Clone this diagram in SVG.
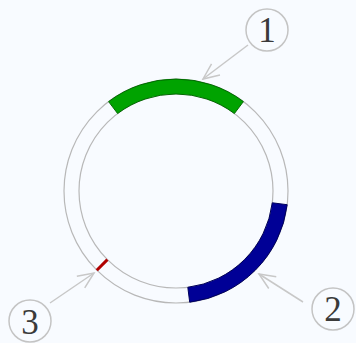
<svg xmlns="http://www.w3.org/2000/svg" width="356" height="343" viewBox="0 0 356 343">
<style>
.ring{fill:none;stroke:#b8b8b8;stroke-width:1.2}
.lbl{fill:none;stroke:#c4c4c4;stroke-width:1.5}
.num{font-family:"Liberation Serif",serif;font-size:35px;fill:#3a3a3a;text-anchor:middle}
.arr{fill:none;stroke:#c8c8c8;stroke-width:1.5;marker-end:url(#v)}
</style>
<defs>
<marker id="v" markerUnits="userSpaceOnUse" viewBox="-18 -9 20 18" refX="0" refY="0" markerWidth="20" markerHeight="18" orient="auto">
<path d="M-16,-7 L0,0 L-16,7" fill="none" stroke="#c8c8c8" stroke-width="1.5"/>
</marker>
</defs>
<rect width="356" height="343" fill="#f8fbff"/>
<g id="plasmid">
<circle class="ring" cx="176" cy="191" r="112"/>
<circle class="ring" cx="176" cy="191" r="97"/>
</g>
<g id="seg1">
<path d="M108.6,101.6 A112,112 0 0 1 243.4,101.6 L234.4,113.5 A97,97 0 0 0 117.6,113.5 Z" fill="#00a300" stroke="#006a00" stroke-width="1"/>
</g>
<g id="seg2">
<path d="M287.2,204.7 A112,112 0 0 1 189.7,302.2 L187.8,287.3 A97,97 0 0 0 272.3,202.8 Z" fill="#000096" stroke="#00005a" stroke-width="1"/>
</g>
<g id="seg3">
<line x1="107.4" y1="259.6" x2="96.8" y2="270.2" stroke="#b00000" stroke-width="3"/>
</g>
<g id="connectors">
<line class="arr" x1="248" y1="45" x2="203" y2="79"/>
<line class="arr" x1="303" y1="302" x2="259" y2="274"/>
<line class="arr" x1="50" y1="303" x2="94" y2="273"/>
</g>
<g id="label1">
<circle class="lbl" cx="267" cy="30" r="21"/>
<text class="num" x="267" y="42">1</text>
</g>
<g id="label2">
<circle class="lbl" cx="333" cy="309" r="21"/>
<text class="num" x="333" y="321">2</text>
</g>
<g id="label3">
<circle class="lbl" cx="30" cy="321" r="21"/>
<text class="num" x="30" y="334">3</text>
</g>
</svg>
